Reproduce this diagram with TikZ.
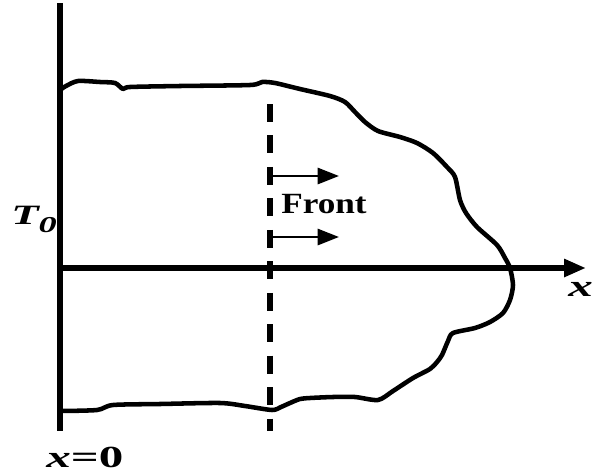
\documentclass[tikz,border=0pt]{standalone}
\usepackage{fontspec}
\setmainfont{Liberation Serif}
\usetikzlibrary{arrows.meta}
\tikzset{
  axisline/.style={line width=4.4pt},
  frontline/.style={line width=4.4pt, dash pattern=on 13.5pt off 10.1pt},
  profile/.style={line width=3.4pt, line join=round, line cap=round},
  smallarrow/.style={line width=2.2pt, -{Triangle[length=16pt,width=12pt]}},
  lbl/.style={inner sep=0pt, anchor=base west, font=\bfseries},
}
\begin{document}
\begin{tikzpicture}[x=0.75pt,y=-0.75pt]
\useasboundingbox (0,0) rectangle (592,475);
% axes
\coordinate (ytop) at (60,3);
\coordinate (ybot) at (60,431);
\coordinate (origin) at (58,268);
\coordinate (xend) at (586,268);
\draw[axisline] (ytop) -- (ybot);
\draw[axisline, -{Triangle[length=16.5pt,width=12.8pt]}] (origin) -- (xend);
% dashed front line
\coordinate (ftop) at (270,104);
\coordinate (fbot) at (270,431);
\draw[frontline] (ftop) -- (fbot);
% arrows
\coordinate (a1s) at (268,176);
\coordinate (a1e) at (339,176);
\coordinate (a2s) at (268,237);
\coordinate (a2e) at (339,237);
\draw[smallarrow] (a1s) -- (a1e);
\draw[smallarrow] (a2s) -- (a2e);
% profile
\draw[profile] plot[smooth, tension=0.45] coordinates {
 (60,90) (66,86) (78,81) (100,82) (115,83) (123,89) (130,87) (180,86) (250,85)
 (262,82) (275,83) (300,89) (330,96) (345,102) (355,112) (365,122) (378,131)
 (400,137) (417,143) (433,153) (447,167) (455,177) (460,200) (466,213) (477,227)
 (497,245) (505,258) (510,268) (513,285) (510,300) (503,313) (490,322) (475,328)
 (453,333) (448,341) (442,355) (437,362) (430,369) (413,378) (393,391) (378,400)
 (355,397) (333,397) (310,398) (300,399) (290,403) (281,407) (272,410) (245,406)
 (220,403) (160,404) (113,405) (97,410) (60,411)};
% labels
\node[lbl] (T0) at (11,224) {\scalebox{1.6}[1]{\fontsize{21pt}{21pt}\selectfont\itshape T\raisebox{-6pt}{\fontsize{17pt}{17pt}\selectfont 0}}};
\node[lbl] (front) at (281,213) {\scalebox{1.2}[1]{\fontsize{22pt}{22pt}\selectfont Front}};
\node[lbl] (x0) at (46,467) {\scalebox{1.6}[1]{\fontsize{23pt}{23pt}\selectfont\itshape x\upshape=0}};
\node[lbl] (xl) at (568,296) {\scalebox{1.6}[1]{\fontsize{23pt}{23pt}\selectfont\itshape x}};
\end{tikzpicture}
\end{document}
